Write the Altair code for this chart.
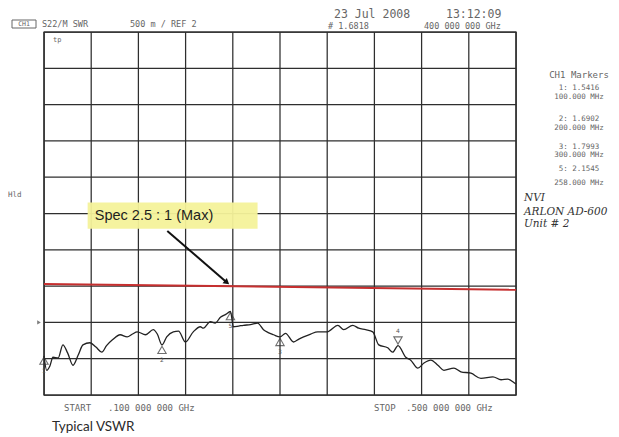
import altair as alt
import pandas as pd

# ---- data ----
freq_mhz = [100, 102.3, 105, 107.6, 112, 116, 120, 124.6, 129, 133, 139, 144, 149, 153, 158, 164.5,
            170.5, 175, 179, 186, 192.6, 196, 200, 204, 209.6, 214, 219.8, 226.5, 232.5, 235, 241,
            245, 249.5, 254, 258, 260.5, 265, 269, 275, 281, 286, 290, 294.5, 300, 304.7, 311.5,
            316, 320, 326, 332, 340, 349, 354, 361.6, 366.7, 372.6, 378.6, 383.7, 391.3, 395.5,
            400, 406.6, 410.8, 416.8, 422, 427.8, 433.8, 438.9, 447.4, 453.3, 461.8, 470.3,
            480.5, 487.3, 493, 498.4, 500]
vswr = [1.54, 1.34, 1.40, 1.52, 1.51, 1.69, 1.58, 1.41, 1.55, 1.69, 1.72, 1.66, 1.59, 1.68, 1.76, 1.83,
        1.80, 1.84, 1.87, 1.83, 1.90, 1.84, 1.69, 1.80, 1.87, 1.88, 1.73, 1.87, 1.94, 1.92, 2.01,
        1.99, 2.07, 2.11, 2.15, 1.94, 1.95, 1.96, 1.97, 1.99, 1.90, 1.86, 1.83, 1.80, 1.85, 1.73,
        1.77, 1.80, 1.84, 1.87, 1.87, 1.96, 1.90, 1.96, 1.92, 1.90, 1.87, 1.69, 1.65, 1.59,
        1.68, 1.52, 1.48, 1.37, 1.44, 1.48, 1.41, 1.34, 1.37, 1.32, 1.30, 1.23,
        1.25, 1.21, 1.22, 1.17, 1.15]

marker_ids = ["1", "2", "3", "5"]
marker_freq = [100, 200, 300, 258]
marker_vswr = [1.5416, 1.6902, 1.7993, 2.1545]
active_id = ["4"]
active_freq = [400]
active_vswr = [1.6818]

spec_freq = [100, 500]
spec_vswr = [2.53, 2.45]

x_ticks = [100, 140, 180, 220, 260, 300, 340, 380, 420, 460, 500]
y_ticks = [1.0, 1.5, 2.0, 2.5, 3.0, 3.5, 4.0, 4.5, 5.0, 5.5, 6.0]

ref_freq = [100]
ref_vswr = [2.0]

# annotation (data coordinates)
note_text = ["Spec 2.5 : 1 (Max)"]
note_box_f = [137, 281]
note_box_v = [3.29, 3.65]
note_text_f = [143]
note_text_v = [3.47]
arrow_f = [204.5, 255]
arrow_v = [3.26, 2.55]

header_lines = ["S22/M SWR", "500 m / REF 2", "23 Jul 2008", "13:12:09", "# 1.6818", "400 000 000 GHz"]
panel_lines = ["CH1 Markers", "1: 1.5416", "100.000 MHz", "2: 1.6902", "200.000 MHz",
               "3: 1.7993", "300.000 MHz", "5: 2.1545", "258.000 MHz"]
hand_lines = ["NVI", "ARLON AD-600", "Unit # 2"]
footer_lines = ["START", ".100 000 000 GHz", "STOP", ".500 000 000 GHz"]
caption = "Typical VSWR"

# ---- layout ----
W, H = 472, 363
GRID = "#2e2e2e"
TXT = "#666666"
MONO = "DejaVu Sans Mono"

xs = alt.Scale(domain=[100, 500], nice=False, zero=False)
ys = alt.Scale(domain=[1.0, 6.0], nice=False, zero=False)
X = lambda f="f": alt.X(f"{f}:Q", scale=xs, axis=None)
Y = lambda v="v": alt.Y(f"{v}:Q", scale=ys, axis=None)

vgrid = alt.Chart(pd.DataFrame({"f": x_ticks})).mark_rule(color=GRID, strokeWidth=1.25).encode(x=X())
hgrid = alt.Chart(pd.DataFrame({"v": y_ticks})).mark_rule(color=GRID, strokeWidth=1.25).encode(y=Y())

trace_df = pd.DataFrame({"f": freq_mhz, "v": vswr})
trace = alt.Chart(trace_df).mark_line(color="#222222", strokeWidth=1.3, interpolate="monotone").encode(
    x=X(), y=Y())

spec_df = pd.DataFrame({"f": spec_freq, "v": spec_vswr})
spec = alt.Chart(spec_df).mark_line(color="#c62f2f", strokeWidth=2).encode(x=X(), y=Y())

mk_df = pd.DataFrame({"id": marker_ids, "f": marker_freq, "v": marker_vswr})
mk = alt.Chart(mk_df).mark_point(shape="triangle-up", filled=False, size=70, color="#333",
                                 strokeWidth=1.1, yOffset=5).encode(x=X(), y=Y())
mk_lbl = alt.Chart(mk_df).mark_text(fontSize=6, color="#555", yOffset=15, font="DejaVu Sans").encode(
    x=X(), y=Y(), text="id:N")

act_df = pd.DataFrame({"id": active_id, "f": active_freq, "v": active_vswr})
act = alt.Chart(act_df).mark_point(shape="triangle-down", filled=False, size=70, color="#333",
                                   strokeWidth=1.1, yOffset=-5).encode(x=X(), y=Y())
act_lbl = alt.Chart(act_df).mark_text(fontSize=6, color="#555", yOffset=-15, font="DejaVu Sans").encode(
    x=X(), y=Y(), text="id:N")

ref_df = pd.DataFrame({"f": ref_freq, "v": ref_vswr})
ref = alt.Chart(ref_df).mark_point(shape="triangle-right", filled=True, size=18, color="#444",
                                   xOffset=-5).encode(x=X(), y=Y())

box_df = pd.DataFrame({"f": [note_box_f[0]], "f2": [note_box_f[1]],
                       "v": [note_box_v[0]], "v2": [note_box_v[1]]})
box = alt.Chart(box_df).mark_rect(color="#f4f29a", opacity=0.95).encode(
    x=X(), x2="f2:Q", y=Y(), y2="v2:Q")

note_df = pd.DataFrame({"f": note_text_f, "v": note_text_v, "t": note_text})
note = alt.Chart(note_df).mark_text(align="left", baseline="middle", fontSize=14.5,
                                    font="Liberation Sans", color="#1e1e1e").encode(
    x=X(), y=Y(), text="t:N")

arr_df = pd.DataFrame({"f": [arrow_f[0]], "v": [arrow_v[0]], "f2": [arrow_f[1]], "v2": [arrow_v[1]]})
arr = alt.Chart(arr_df).mark_rule(color="#111", strokeWidth=2).encode(
    x=X(), y=Y(), x2="f2:Q", y2="v2:Q")
head_df = pd.DataFrame({"f": [arrow_f[1]], "v": [arrow_v[1]]})
head = alt.Chart(head_df).mark_point(shape="triangle-up", filled=True, size=45, color="#111",
                                     angle=130, opacity=1).encode(x=X(), y=Y())


def txt(s, x, y, size=7, color=TXT, align="left", font=MONO, style="normal", weight="normal"):
    return alt.Chart(pd.DataFrame({"t": [s]})).mark_text(
        align=align, baseline="middle", fontSize=size, color=color, font=font,
        fontStyle=style, fontWeight=weight).encode(
        x=alt.value(x), y=alt.value(y), text="t:N")


texts = []
# header
texts.append(alt.Chart(pd.DataFrame({"a": [0]})).mark_rect(
    fill="white", stroke="#666", strokeWidth=1).encode(
    x=alt.value(-32), x2=alt.value(-8), y=alt.value(-12), y2=alt.value(-4)))
texts.append(txt("CH1", -20, -8, size=6.5, align="center"))
texts.append(txt(header_lines[0], -2, -8, size=8.5))
texts.append(txt(header_lines[1], 86, -8, size=8.5))
texts.append(txt(header_lines[2], 290, -17, size=11.5))
texts.append(txt(header_lines[3], 402, -17, size=11.5))
texts.append(txt(header_lines[4], 284, -6, size=8.5))
texts.append(txt(header_lines[5], 380, -6, size=8.5))
texts.append(txt("Hld", -36, 163, size=7.5))
texts.append(txt("tp", 9, 8, size=7))
# right marker panel
panel_y = [43, 56, 64.5, 87, 95.5, 114.5, 123, 137, 151]
panel_size = [9, 7.5, 7.5, 7.5, 7.5, 7.5, 7.5, 7.5, 7.5]
for s, yy, sz in zip(panel_lines, panel_y, panel_size):
    texts.append(txt(s, 535, yy, size=sz, align="center"))
# handwriting
hand_y = [166, 180, 192]
for s, yy in zip(hand_lines, hand_y):
    texts.append(txt(s, 480, yy, size=10.5, color="#333", font="DejaVu Serif", style="italic"))
# footer
texts.append(txt(footer_lines[0], 20, 376, size=9))
texts.append(txt(footer_lines[1], 64, 376, size=9))
texts.append(txt(footer_lines[2], 330, 376, size=9))
texts.append(txt(footer_lines[3], 362, 376, size=9))
texts.append(txt(caption, 8, 395, size=13.5, color="#2b2b2b", font="Lato"))

chart = alt.layer(vgrid, hgrid, trace, spec, box, note, arr, head, mk, mk_lbl, act, act_lbl, ref,
                  *texts).properties(
    width=W, height=H,
    padding={"left": 36, "top": 24, "right": 95, "bottom": 40},
    autosize=alt.AutoSizeParams(type="none"),
    background="white",
).configure_view(stroke=GRID, strokeWidth=1.4)

chart.save("out.html", embed_options={"renderer": "svg", "actions": False})
